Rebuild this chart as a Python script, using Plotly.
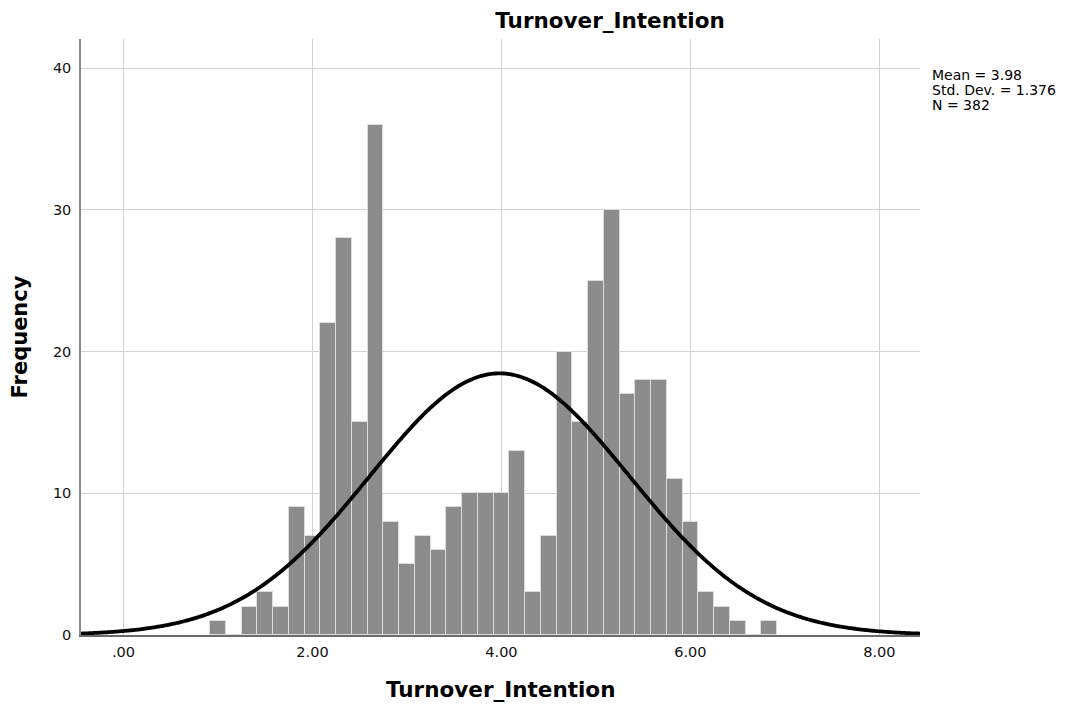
import numpy as np
import plotly.graph_objects as go

# ---- data ----
bin_centers = [1.000, 1.167, 1.333, 1.500, 1.667, 1.833, 2.000, 2.167, 2.333, 2.500,
               2.667, 2.833, 3.000, 3.167, 3.333, 3.500, 3.667, 3.833, 4.000, 4.167,
               4.333, 4.500, 4.667, 4.833, 5.000, 5.167, 5.333, 5.500, 5.667, 5.833,
               6.000, 6.167, 6.333, 6.500, 6.667, 6.833]
frequencies = [1, 0, 2, 3, 2, 9, 7, 22, 28, 15,
               36, 8, 5, 7, 6, 9, 10, 10, 10, 13,
               3, 7, 20, 15, 25, 30, 17, 18, 18, 11,
               8, 3, 2, 1, 0, 1]
bin_width = 1 / 6

mean_value = 3.98
std_dev = 1.376
n_obs = 382

x_tick_vals = [0, 2, 4, 6, 8]
x_tick_text = [".00", "2.00", "4.00", "6.00", "8.00"]
y_tick_vals = [0, 10, 20, 30, 40]
y_tick_text = ["0", "10", "20", "30", "40"]

stats_lines = [f"Mean = {mean_value:.2f}", f"Std. Dev. = {std_dev:.3f}", f"N = {n_obs}"]

x_range = [-0.45, 8.43]
y_range = [0, 42.05]

# fitted normal curve (scaled to counts)
curve_x = np.linspace(x_range[0], x_range[1], 400)
curve_y = n_obs * bin_width * np.exp(-0.5 * ((curve_x - mean_value) / std_dev) ** 2) / (std_dev * np.sqrt(2 * np.pi))

W, H = 1055, 695
ML, MR, MT, MB = 73, 143, 31, 68
plot_h = H - MT - MB
plot_w = W - ML - MR

fig = go.Figure()
fig.add_trace(go.Bar(
    x=bin_centers, y=frequencies, width=bin_width,
    marker=dict(color="#8c8c8c", line=dict(color="#dcdcdc", width=1)),
    showlegend=False, hoverinfo="x+y",
))
fig.add_trace(go.Scatter(
    x=curve_x, y=curve_y, mode="lines",
    line=dict(color="#000000", width=3.8, shape="spline"),
    showlegend=False, hoverinfo="skip",
))

font_family = "DejaVu Sans, Lucida Grande, sans-serif"

annotations = []
for i, line in enumerate(stats_lines):
    annotations.append(dict(
        text=line, xref="paper", yref="paper", x=1.0,
        y=1 - (67 + 15 * i - MT) / plot_h,
        xanchor="left", yanchor="middle", xshift=11, align="left", showarrow=False,
        borderpad=0,
        font=dict(family=font_family, size=14, color="#000"),
    ))
# x-axis title
annotations.append(dict(
    text="<b>Turnover_Intention</b>", xref="paper", yref="paper",
    x=(492 - ML) / plot_w, y=-(681 - (H - MB)) / plot_h,
    xanchor="center", yanchor="middle", showarrow=False, borderpad=0,
    font=dict(family=font_family, size=21.5, color="#000"),
))

fig.update_layout(
    width=W, height=H,
    margin=dict(l=ML, r=MR, t=MT, b=MB, autoexpand=False),
    paper_bgcolor="white", plot_bgcolor="white",
    bargap=0,
    font=dict(family=font_family, color="#000000", size=13),
    title=dict(text="<b>Turnover_Intention</b>", x=602 / W, xanchor="center",
               y=1 - 12 / H, yanchor="middle",
               font=dict(family=font_family, size=21.5, color="#000")),
    xaxis=dict(
        range=x_range, tickvals=x_tick_vals, ticktext=x_tick_text,
        showgrid=True, gridcolor="#d2d2d2", gridwidth=1,
        zeroline=False, showline=True, linecolor="#6a6a6a", linewidth=1.5,
        ticks="", tickfont=dict(size=14.5, color="#111"), ticklabelstandoff=3,
        automargin=False,
    ),
    yaxis=dict(
        range=y_range, tickvals=y_tick_vals, ticktext=y_tick_text,
        showgrid=True, gridcolor="#d2d2d2", gridwidth=1,
        zeroline=False, showline=True, linecolor="#8a8a8a", linewidth=1.5,
        ticks="", tickfont=dict(size=14.5, color="#111"), ticklabelstandoff=5,
        automargin=False,
        title=dict(text="<b>Frequency</b>", font=dict(size=21, color="#000"), standoff=21),
    ),
    annotations=annotations,
)

fig.write_html("out.html")
